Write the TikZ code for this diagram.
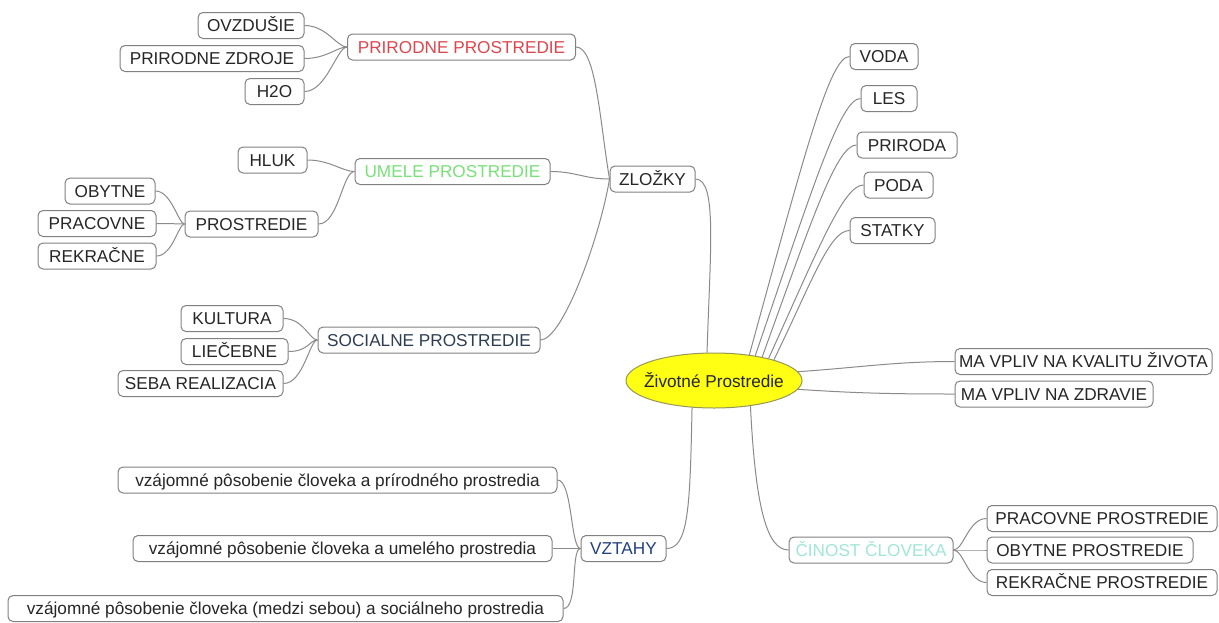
\documentclass[tikz,border=0pt]{standalone}
\usepackage{fontspec}
\setmainfont{Liberation Sans}
\usetikzlibrary{shapes.geometric}

\definecolor{boxline}{RGB}{128,128,128}
\definecolor{linkgray}{RGB}{138,138,138}
\definecolor{prirodred}{RGB}{222,70,78}
\definecolor{umelegreen}{RGB}{120,225,120}
\definecolor{socialslate}{RGB}{45,62,80}
\definecolor{vztahblue}{RGB}{35,65,125}
\definecolor{cinostcyan}{RGB}{160,230,215}
\definecolor{sunyellow}{RGB}{255,255,20}
\definecolor{sunline}{RGB}{150,150,90}

\begin{document}
\begin{tikzpicture}[x=1pt, y=1pt,
   every node/.style={font=\fontsize{17.2}{20}\selectfont, text=black!85},
   box/.style={draw=boxline, line width=1pt, rounded corners=5pt, fill=white,
               minimum height=26pt, inner xsep=3pt, inner ysep=0pt,
               text height=12.2pt, text depth=0pt},
   link/.style={draw=linkgray, line width=1pt}]

\useasboundingbox (0,0) rectangle (1219,-622);

\node[ellipse, draw=sunline, line width=1pt, fill=sunyellow, minimum width=176pt,
      minimum height=55pt, inner sep=0pt] (zivot) at (714,-380.5)
      {\makebox[100pt][c]{Životné Prostredie}};

\node[box, minimum width=85pt] (zlozky) at (652.5,-179) {ZLOŽKY};
\node[box, minimum width=228pt, text=prirodred] (prirodne) at (461.5,-47) {PRIRODNE PROSTREDIE};
\node[box, minimum width=106pt] (ovzdusie) at (251,-25.5) {OVZDUŠIE};
\node[box, minimum width=184pt] (zdroje) at (212,-58.5) {PRIRODNE ZDROJE};
\node[box, minimum width=59pt] (htwo) at (274.5,-91.5) {H2O};
\node[box, minimum width=195pt, text=umelegreen] (umele) at (452.5,-171.5) {UMELE PROSTREDIE};
\node[box, minimum width=69pt] (hluk) at (272.5,-160) {HLUK};
\node[box, minimum width=133pt] (prostredie) at (251.5,-224) {PROSTREDIE};
\node[box, minimum width=90pt] (obytne) at (110,-191) {OBYTNE};
\node[box, minimum width=118pt] (pracovne) at (97,-223.5) {PRACOVNE};
\node[box, minimum width=118pt] (rekracne) at (97,-256) {REKRAČNE};
\node[box, minimum width=222pt, text=socialslate] (socialne) at (429,-340) {SOCIALNE PROSTREDIE};
\node[box, minimum width=102pt] (kultura) at (232,-318.5) {KULTURA};
\node[box, minimum width=107pt] (liecebne) at (234.5,-351.5) {LIEČEBNE};
\node[box, minimum width=165pt] (seba) at (200.5,-383.5) {SEBA REALIZACIA};

\node[box, minimum width=68pt] (voda) at (884,-56.5) {VODA};
\node[box, minimum width=56pt] (les) at (889,-98.5) {LES};
\node[box, minimum width=100pt] (priroda) at (907,-145) {PRIRODA};
\node[box, minimum width=69pt] (poda) at (898.5,-185) {PODA};
\node[box, minimum width=85pt] (statky) at (892.5,-230.5) {STATKY};
\node[box, minimum width=257pt] (kvalita) at (1083.5,-361.5) {MA VPLIV NA KVALITU ŽIVOTA};
\node[box, minimum width=198pt] (zdravie) at (1054,-394) {MA VPLIV NA ZDRAVIE};

\node[box, minimum width=164pt, text=cinostcyan] (cinost) at (871,-550) {ČINOST ČLOVEKA};
\node[box, minimum width=230pt] (cpracovne) at (1102,-518.5) {PRACOVNE PROSTREDIE};
\node[box, minimum width=206pt] (cobytne) at (1090,-550) {OBYTNE PROSTREDIE};
\node[box, minimum width=230pt] (crekracne) at (1102,-582.5) {REKRAČNE PROSTREDIE};

\node[box, minimum width=85pt, text=vztahblue] (vztahy) at (623.5,-548.5) {VZTAHY};
\node[box, minimum width=439pt] (prirodneho) at (337.5,-480) {vzájomné pôsobenie človeka a prírodného prostredia};
\node[box, minimum width=419pt] (umeleho) at (342.5,-548.5) {vzájomné pôsobenie človeka a umelého prostredia};
\node[box, minimum width=555pt] (socialneho) at (285.5,-608.5) {vzájomné pôsobenie človeka (medzi sebou) a sociálneho prostredia};

\draw[link] (zivot.104) .. controls +(3,100) and +(22,0) .. (zlozky.east);
\draw[link] (zlozky.west) .. controls +(-10,60) and +(20,0) .. (prirodne.east);
\draw[link] (zlozky.west) .. controls +(-25,0) and +(25,0) .. (umele.east);
\draw[link] (zlozky.west) .. controls +(-10,-60) and +(22,0) .. (socialne.east);

\draw[link] (prirodne.west) .. controls +(-10,0) and +(22,0) .. (ovzdusie.east);
\draw[link] (prirodne.west) .. controls +(-10,0) and +(22,0) .. (zdroje.east);
\draw[link] (prirodne.west) .. controls +(-10,0) and +(22,0) .. (htwo.east);

\draw[link] (umele.west) .. controls +(-12,0) and +(22,0) .. (hluk.east);
\draw[link] (umele.west) .. controls +(-12,0) and +(20,0) .. (prostredie.east);
\draw[link] (prostredie.west) .. controls +(-6,0) and +(16,0) .. (obytne.east);
\draw[link] (prostredie.west) .. controls +(-6,0) and +(16,0) .. (pracovne.east);
\draw[link] (prostredie.west) .. controls +(-6,0) and +(16,0) .. (rekracne.east);

\draw[link] (socialne.west) .. controls +(-8,0) and +(20,0) .. (kultura.east);
\draw[link] (socialne.west) .. controls +(-8,0) and +(20,0) .. (liecebne.east);
\draw[link] (socialne.west) .. controls +(-8,0) and +(20,0) .. (seba.east);

\draw[link] (zivot.36) .. controls +(55,200) and +(-20,0) .. (voda.west);
\draw[link] (zivot.31) .. controls +(58,170) and +(-20,0) .. (les.west);
\draw[link] (zivot.26) .. controls +(50,138) and +(-20,0) .. (priroda.west);
\draw[link] (zivot.22) .. controls +(50,110) and +(-20,0) .. (poda.west);
\draw[link] (zivot.19) .. controls +(38,78) and +(-20,0) .. (statky.west);

\draw[link] (zivot.6) .. controls +(60,4) and +(-60,0) .. (kvalita.west);
\draw[link] (zivot.-6) .. controls +(60,-4) and +(-60,0) .. (zdravie.west);

\draw[link] (zivot.-35) .. controls +(5,-100) and +(-22,0) .. (cinost.west);
\draw[link] (cinost.east) .. controls +(10,0) and +(-18,0) .. (cpracovne.west);
\draw[link] (cinost.east) .. controls +(10,0) and +(-18,0) .. (cobytne.west);
\draw[link] (cinost.east) .. controls +(10,0) and +(-18,0) .. (crekracne.west);

\draw[link] (zivot.-129) .. controls +(-2,-100) and +(22,0) .. (vztahy.east);
\draw[link] (vztahy.west) .. controls +(-10,0) and +(15,0) .. (prirodneho.east);
\draw[link] (vztahy.west) .. controls +(-10,0) and +(15,0) .. (umeleho.east);
\draw[link] (vztahy.west) .. controls +(-10,0) and +(15,0) .. (socialneho.east);

\end{tikzpicture}
\end{document}
